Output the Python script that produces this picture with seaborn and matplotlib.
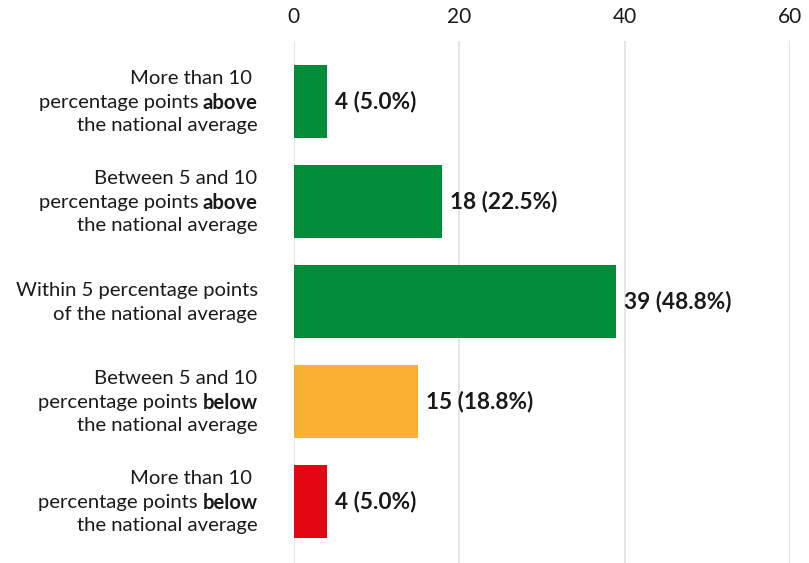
import matplotlib
matplotlib.use("Agg")
import matplotlib.pyplot as plt
import seaborn as sns
import pandas as pd

categories = [
    "More than 10 percentage points above the national average",
    "Between 5 and 10 percentage points above the national average",
    "Within 5 percentage points of the national average",
    "Between 5 and 10 percentage points below the national average",
    "More than 10 percentage points below the national average",
]
counts = [4, 18, 39, 15, 4]
percents = [5.0, 22.5, 48.8, 18.8, 5.0]
colors = ["#008C38", "#008C38", "#008C38", "#F8B133", "#E30613"]
x_ticks = [0, 20, 40, 60]

# label lines: list of segments (text, bold)
label_lines = [
    [[("More than 10 ", False)], [("percentage points ", False), ("above", True)], [("the national average", False)]],
    [[("Between 5 and 10", False)], [("percentage points ", False), ("above", True)], [("the national average", False)]],
    [[("Within 5 percentage points", False)], [("of the national average", False)]],
    [[("Between 5 and 10", False)], [("percentage points ", False), ("below", True)], [("the national average", False)]],
    [[("More than 10 ", False)], [("percentage points ", False), ("below", True)], [("the national average", False)]],
]

sns.set_theme(style="white")
plt.rcParams["font.family"] = ["Lato", "DejaVu Sans"]

df = pd.DataFrame({"category": categories, "count": counts})

W, H, DPI = 809, 563, 100
fig = plt.figure(figsize=(W / DPI, H / DPI), dpi=DPI)
ax = fig.add_axes([293.5 / W, 0, (790 - 293.5) / W, 1 - 41 / H])

sns.barplot(data=df, y="category", x="count", hue="category", palette=colors,
            legend=False, orient="h", width=0.73, ax=ax, saturation=1, linewidth=0)

ax.set_xlim(0, 60)
ax.set_ylim(4.62, -0.6)
ax.set_xticks(x_ticks)
ax.xaxis.tick_top()
ax.tick_params(axis="x", length=0, pad=10, labelsize=15, labelcolor="#1a1a1a")
ax.set_yticks([])
ax.set_xlabel("")
ax.set_ylabel("")
for s in ax.spines.values():
    s.set_visible(False)
ax.grid(axis="x", color="#e0e0e0", linewidth=1.2)
ax.set_axisbelow(True)

renderer = fig.canvas.get_renderer()
pt = 72 / DPI  # points per pixel
fs = 14.6
fsv = 16.3
txtcolor = "#1a1a1a"
for i, (c, p) in enumerate(zip(counts, percents)):
    ax.annotate(f"{c} ({p:.1f}%)", xy=(c, i), xytext=(8 * pt, 0), textcoords="offset points",
                ha="left", va="center", fontsize=fsv, fontweight="bold", color=txtcolor)
    lines = label_lines[i]
    n = len(lines)
    spacing = 23.5
    for j, segs in enumerate(lines):
        dy = ((n - 1) / 2 - j) * spacing
        xoff = -36.0
        for k, (text, bold) in enumerate(reversed(segs)):
            w = "bold" if bold else "normal"
            t = ax.annotate(text.rstrip() if k > 0 else text, xy=(0, i), xycoords="data",
                            xytext=(xoff * pt, dy * pt), textcoords="offset points",
                            ha="right", va="center_baseline", fontsize=fs, fontweight=w,
                            color=txtcolor, annotation_clip=False)
            xoff -= t.get_window_extent(renderer).width + 4.5

fig.savefig("out.png", dpi=DPI)
